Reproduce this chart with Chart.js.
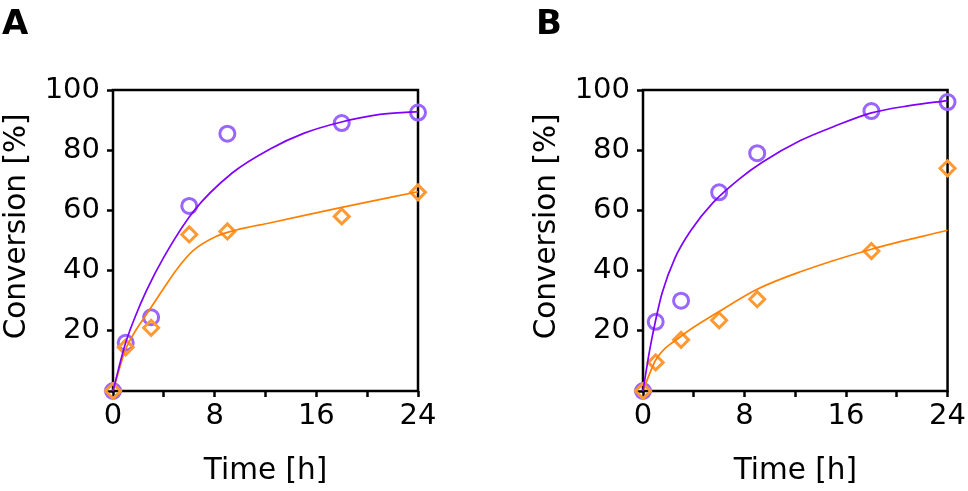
<!DOCTYPE html>
<html>
<head>
<meta charset="utf-8">
<script src="https://cdn.jsdelivr.net/npm/chart.js@4.4.1/dist/chart.umd.min.js"></script>
<style>
  html, body { margin: 0; padding: 0; background: #fff; }
  body { width: 968px; height: 491px; position: relative; overflow: hidden; }
  .panel { position: absolute; top: 0; height: 491px; }
  #panelA { left: 0; width: 484px; }
  #panelB { left: 530px; width: 438px; }
  .tag { position: absolute; top: 5px; font: bold 34px/34px "DejaVu Sans", sans-serif; color: #000; z-index: 2; }
  #tagA { left: 2px; }
  #tagB { left: 536px; }
</style>
</head>
<body>
<div class="tag" id="tagA">A</div>
<div class="tag" id="tagB">B</div>
<div class="panel" id="panelA"><canvas id="chartA"></canvas></div>
<div class="panel" id="panelB"><canvas id="chartB"></canvas></div>
<script>
// measured time points [h]
const timePoints = [0, 1, 3, 6, 9, 18, 24];

// panel A measurements [%]
const circlesA  = [0, 16, 24.5, 61.5, 85.5, 89, 92.5];
const diamondsA = [0, 14.5, 21, 52, 53, 58, 66];

// panel B measurements [%]
const circlesB  = [0, 23, 30, 66, 79, 93, 96];
const diamondsB = [0, 9.5, 17, 23.5, 30.5, 46.5, 74];

// fitted curves
const fitPurpleA_t = [0, 0.94, 1.73, 2.65, 4, 6.3, 9.4, 12.4, 15, 17.9, 21, 24];
const fitPurpleA_y = [0, 15.3, 24.5, 33.5, 44.5, 59.5, 72.5, 80.5, 85.6, 89.3, 91.9, 92.8];
const fitOrangeA_t = [0, 1, 1.7, 2.4, 3, 4.1, 5, 6.3, 8.1, 9.7, 12.4, 18, 24];
const fitOrangeA_y = [0, 14, 19.5, 24, 27.8, 34.8, 40.3, 46.6, 51.3, 53.5, 55.9, 61, 66.2];

const fitPurpleB_t = [0, 0.5, 1, 1.5, 2.5, 3.8, 5.5, 7.6, 9.4, 12.4, 15, 18, 21, 24];
const fitPurpleB_y = [0, 13, 23.6, 32.5, 44, 53.5, 62.5, 70.5, 76, 83.2, 87.8, 92.4, 94.8, 96.5];
const fitOrangeB_t = [0, 0.5, 1, 3, 6, 9, 12.4, 18, 24];
const fitOrangeB_y = [0, 5.5, 10.3, 18.2, 26.4, 33.8, 39.6, 47.1, 53.4];

// axis ticks
const xLabelled = [0, 8, 16, 24];
const yLabelled = [20, 40, 60, 80, 100];

const FONT = "DejaVu Sans";

function zip(xs, ys) {
    return xs.map((x, i) => ({ x: x, y: ys[i] }));
}

// box round the plot area
const framePlugin = {
    id: "frame",
    beforeDatasetsDraw(chart) {
        const { ctx, chartArea: a } = chart;
        ctx.save();
        ctx.strokeStyle = "#000";
        ctx.lineWidth = 2.5;
        ctx.strokeRect(a.left, a.top, a.right - a.left, a.bottom - a.top);
        ctx.restore();
    }
};

function makePanel(canvasId, circles, diamonds, pT, pY, oT, oY, rightPad) {
    const ctx = document.getElementById(canvasId).getContext("2d");
    const tickGrid = {
        drawOnChartArea: false,
        drawTicks: true,
        tickLength: 6,
        tickWidth: 2.5,
        tickColor: "#000"
    };
    return new Chart(ctx, {
        type: "scatter",
        data: {
            datasets: [
                {
                    data: zip(pT, pY),
                    showLine: true,
                    pointRadius: 0,
                    borderColor: "#8000ff",
                    borderWidth: 1.7,
                    cubicInterpolationMode: "monotone",
                    fill: false,
                    clip: false
                },
                {
                    data: zip(oT, oY),
                    showLine: true,
                    pointRadius: 0,
                    borderColor: "#ff8000",
                    borderWidth: 1.7,
                    cubicInterpolationMode: "monotone",
                    fill: false,
                    clip: false
                },
                {
                    data: zip(timePoints, diamonds),
                    showLine: false,
                    pointStyle: "rectRot",
                    pointRadius: 7.5,
                    pointBorderWidth: 3,
                    pointBorderColor: "#ff9933",
                    pointBackgroundColor: "rgba(0,0,0,0)",
                    clip: false
                },
                {
                    data: zip(timePoints, circles),
                    showLine: false,
                    pointStyle: "circle",
                    pointRadius: 7.5,
                    pointBorderWidth: 3,
                    pointBorderColor: "#9966ff",
                    pointBackgroundColor: "rgba(0,0,0,0)",
                    clip: false
                }
            ]
        },
        options: {
            responsive: true,
            maintainAspectRatio: false,
            animation: false,
            events: [],
            layout: { padding: { top: 90, right: rightPad, bottom: 0, left: 0 } },
            plugins: {
                legend: { display: false },
                tooltip: { enabled: false }
            },
            scales: {
                x: {
                    type: "linear",
                    min: 0,
                    max: 24,
                    afterFit: (s) => { s.height = 100; },
                    border: { display: false },
                    grid: tickGrid,
                    ticks: {
                        stepSize: 4,
                        autoSkip: false,
                        maxRotation: 0,
                        padding: 2,
                        color: "#000",
                        font: { family: FONT, size: 29 },
                        callback: (v) => xLabelled.includes(v) ? String(v) : ""
                    },
                    title: {
                        display: true,
                        text: "Time [h]",
                        color: "#000",
                        font: { family: FONT, size: 29.5, lineHeight: 1.2 },
                        padding: { top: 0, bottom: 2 }
                    }
                },
                y: {
                    type: "linear",
                    min: 0,
                    max: 100,
                    afterFit: (s) => { s.width = 113; },
                    border: { display: false },
                    grid: tickGrid,
                    ticks: {
                        stepSize: 20,
                        padding: 7,
                        color: "#000",
                        font: { family: FONT, size: 29 },
                        callback: (v) => yLabelled.includes(v) ? String(v) : ""
                    },
                    title: {
                        display: true,
                        text: "   Conversion [%]",
                        color: "#000",
                        font: { family: FONT, size: 29.5, lineHeight: 1.2 },
                        padding: { top: 0, bottom: 0 }
                    }
                }
            }
        },
        plugins: [framePlugin]
    });
}

makePanel("chartA", circlesA, diamondsA, fitPurpleA_t, fitPurpleA_y, fitOrangeA_t, fitOrangeA_y, 66);
makePanel("chartB", circlesB, diamondsB, fitPurpleB_t, fitPurpleB_y, fitOrangeB_t, fitOrangeB_y, 20);
</script>
</body>
</html>
